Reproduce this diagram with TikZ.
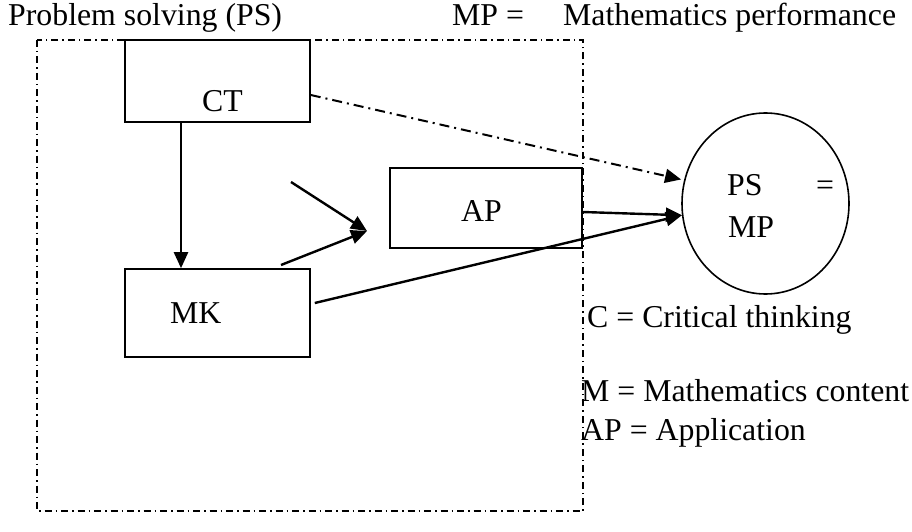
\documentclass[tikz,border=0pt]{standalone}
\usepackage{fontspec}
\setmainfont{Liberation Serif}
\usepackage{tikz}
\usetikzlibrary{arrows.meta,calc,positioning,shapes.geometric}
\tikzset{
  >={Triangle[length=16pt,width=14pt]},
  flow/.style={->,draw=black,line width=2.4pt},
  dashflow/.style={->,draw=black,line width=2pt,
    dash pattern=on 10pt off 5pt on 2pt off 5pt},
  frame/.style={draw=black,line width=1.3pt,
    dash pattern=on 7pt off 4pt on 1.5pt off 4pt},
  box/.style={
    draw=black,
    rectangle,
    line width=1.6pt,
    inner sep=0pt
  },
  bubble/.style={
    draw=black,
    ellipse,
    line width=1.6pt,
    minimum width=167pt,
    minimum height=181pt,
    inner sep=0pt
  },
  word/.style={font=\fontsize{31.8}{37}\selectfont,inner sep=0pt,anchor=base west}
}

\begin{document}
\begin{tikzpicture}[x=1pt,y=-1pt]
  \useasboundingbox (0,0) rectangle (912,532);
  \fill[white] (0,0) rectangle (912,532);

  % Heading and key
  \node[word] (pstitle) at (8,26) {Problem solving (PS)};
  \node[word] (mpkey) at (452,26) {MP =};
  \node[word] (mptext) at (563,26) {Mathematics performance};

  % Dash-dot frame
  \draw[frame] (37,40) rectangle (583,511);

  % Boxes
  \node[box,minimum width=185pt,minimum height=82pt] (ct) at (217.5,81) {};
  \node[word] (cttext) at (202,111) {CT};

  \node[box,minimum width=185pt,minimum height=88pt] (mk) at (217.5,313) {};
  \node[word] (mktext) at (170,323) {MK};

  \node[box,minimum width=192pt,minimum height=80pt] (ap) at (486,208) {};
  \node[word] (aptext) at (461,221) {AP};

  \node[bubble] (ps) at (765.5,203.5) {};
  \node[word] (pstext) at (727,195) {PS};
  \node[word] (eqtext) at (816,195) {=};
  \node[word] (mpt) at (728,237) {MP};

  % Connectors
  \coordinate (apin) at (367,231);
  \coordinate (upfree) at (291,182);
  \coordinate (lowfree) at (281,265);

  \draw[flow] (ct.south -| 181,0) -- (mk.north -| 181,0);
  \draw[flow] (upfree) -- (apin);
  \draw[flow] (lowfree) -- (apin);
  \draw[flow] ($(ap.east)+(0,4)$) -- (ps.188);
  \draw[flow] ($(mk.east)+(4,-10)$) -- (ps.188);
  \draw[dashflow,shorten >=3pt] ($(ct.east)+(0,14)$) -- (ps.164);

  % Legend
  \node[word] (ckey) at (587,327) {C = Critical thinking};
  \node[word] (mkey) at (581,401) {M = Mathematics content};
  \node[word] (apkey) at (581,440) {AP = Application};
\end{tikzpicture}
\end{document}
